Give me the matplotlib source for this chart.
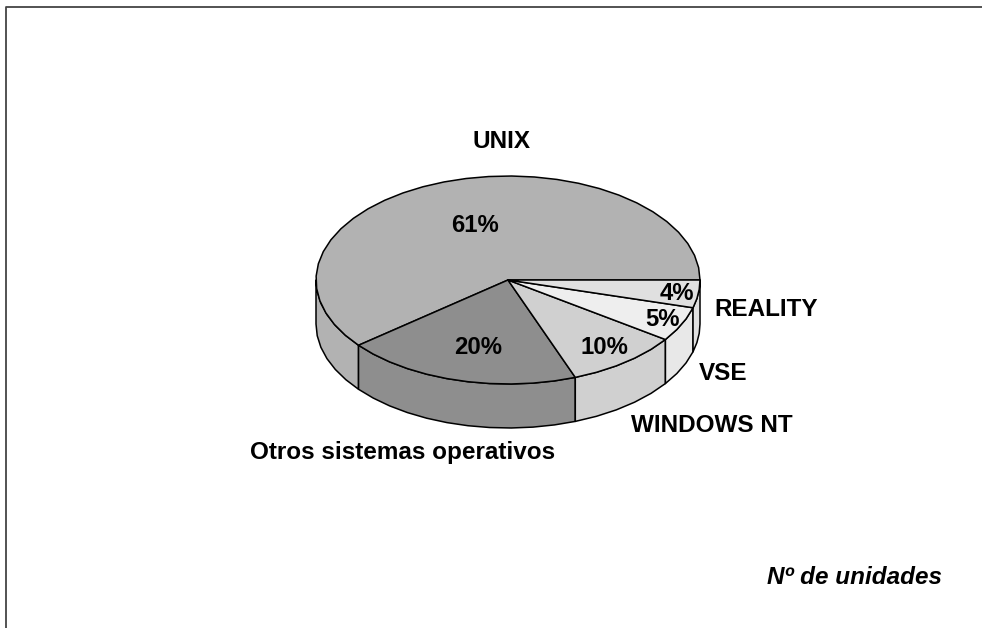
import numpy as np
import matplotlib
matplotlib.use('Agg')
import matplotlib.pyplot as plt
from matplotlib.patches import Polygon

plt.rcParams['font.family'] = ['Liberation Sans', 'DejaVu Sans']

# Data (slice sizes estimated, labels show them rounded)
names = ['UNIX', 'Otros sistemas operativos', 'WINDOWS NT', 'VSE', 'REALITY']
shares = [60.8, 19.9, 9.6, 5.4, 4.3]
colors = ['#b2b2b2', '#8e8e8e', '#d0d0d0', '#eeeeee', '#e0e0e0']
side_colors = ['#b2b2b2', '#8e8e8e', '#d0d0d0', '#e8e8e8', '#e0e0e0']

# name label centres / share label centres, in pixels
name_pos = [(502, 141), (403, 452), (712, 426), (723, 374), (766, 309)]
share_pos = [(475, 226), (478, 347), (604, 347), (663, 320), (677, 294)]

# pie layout, in pixels
cx, cy = 508, 280
rx, ry = 192, 104
depth = 44


def rim(a0, a1):
    # coarse steps, the original ellipse is visibly faceted
    n = max(int((a1 - a0) / 7) + 2, 2)
    a = np.radians(np.linspace(a0, a1, n))
    return cx + rx * np.cos(a), cy - ry * np.sin(a)


fig = plt.figure(figsize=(9.82, 6.28), dpi=100)
ax = fig.add_axes([0, 0, 1, 1])
ax.set_xlim(0, 982)
ax.set_ylim(628, 0)
ax.axis('off')

# page frame, only top and left are visible
ax.plot([6.5, 6.5, 982], [628, 6.5, 6.5], color='#444444', lw=1.3)

angles = np.concatenate([[0], np.cumsum(shares) * 3.6])

# side wall: only the front half of the rim shows
for i in range(len(shares)):
    a0, a1 = max(angles[i], 180), angles[i + 1]
    if a1 <= a0:
        continue
    x, y = rim(a0, a1)
    pts = np.column_stack([np.r_[x, x[::-1]], np.r_[y, y[::-1] + depth]])
    ax.add_patch(Polygon(pts, closed=True, fc=side_colors[i], ec='black', lw=1.1, joinstyle='round'))

# top face
for i in range(len(shares)):
    x, y = rim(angles[i], angles[i + 1])
    pts = np.column_stack([np.r_[cx, x], np.r_[cy, y]])
    ax.add_patch(Polygon(pts, closed=True, fc=colors[i], ec='black', lw=1.1, joinstyle='round'))

for name, (x, y) in zip(names, name_pos):
    ax.text(x, y, name, ha='center', va='center', fontsize=17.5, fontweight='bold', color='black')

for val, (x, y) in zip(shares, share_pos):
    ax.text(x, y, f'{val:.0f}%', ha='center', va='center', fontsize=17.2, fontweight='bold', color='black')

ax.text(942, 578, 'Nº de unidades', ha='right', va='center', fontsize=17.5,
        fontweight='bold', fontstyle='italic', color='black')

fig.savefig('out.png', dpi=100)
